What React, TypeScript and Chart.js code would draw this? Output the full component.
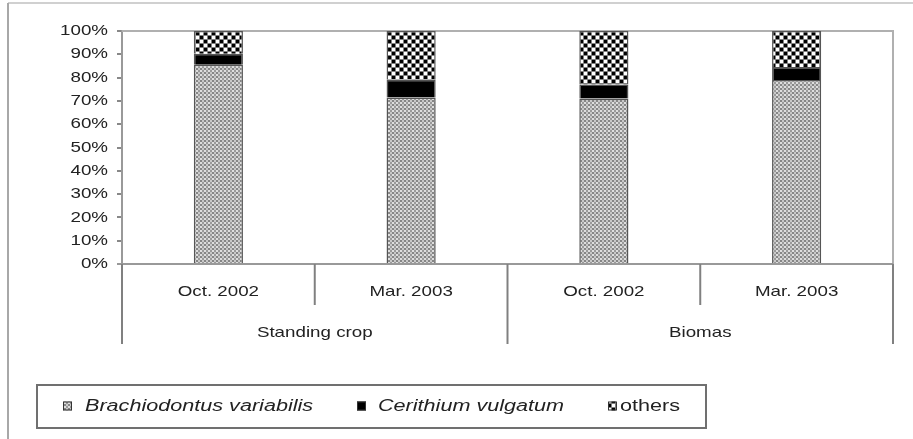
import React, { useEffect, useRef } from "react";
import { Chart, registerables } from "chart.js";

Chart.register(...registerables);

const categories = ["Oct. 2002", "Mar. 2003", "Oct. 2002", "Mar. 2003"];
const groups = ["Standing crop", "Biomas"];
const seriesNames = ["Brachiodontus variabilis", "Cerithium vulgatum", "others"];
const brachiodontus = [85.5, 71.5, 71, 79];
const cerithium = [4.7, 7.6, 6, 5.5];
const others = [9.8, 20.9, 23, 15.5];

const FONT = '"Liberation Sans", Arial, sans-serif';
const SX = 1.25;

function makeTile(size: number, draw: (c: CanvasRenderingContext2D) => void) {
  const cv = document.createElement("canvas");
  cv.width = size;
  cv.height = size;
  const c = cv.getContext("2d")!;
  draw(c);
  return cv;
}

function sText(
  ctx: CanvasRenderingContext2D,
  t: string,
  x: number,
  y: number,
  align: "left" | "center" | "right",
  font: string,
  sx = SX
) {
  ctx.save();
  ctx.font = font;
  const w = ctx.measureText(t).width * sx;
  const left = align === "center" ? x - w / 2 : align === "right" ? x - w : x;
  ctx.translate(left, y);
  ctx.scale(sx, 1);
  ctx.textAlign = "left";
  ctx.textBaseline = "middle";
  ctx.fillStyle = "#222";
  ctx.fillText(t, 0, 0);
  ctx.restore();
}

export default function App() {
  const ref = useRef<HTMLCanvasElement | null>(null);

  useEffect(() => {
    const canvas = ref.current!;
    const tmp = canvas.getContext("2d")!;
    const brachTile = makeTile(4, (c) => {
      c.fillStyle = "#dedede";
      c.fillRect(0, 0, 4, 4);
      c.fillStyle = "#868686";
      c.fillRect(0, 0, 2, 2);
      c.fillStyle = "#9a9a9a";
      c.fillRect(2, 2, 2, 2);
      c.fillStyle = "#c8c8c8";
      c.fillRect(2, 0, 2, 2);
    });
    const othersTile = makeTile(8, (c) => {
      c.fillStyle = "#808080";
      c.fillRect(0, 0, 8, 8);
      c.fillStyle = "#ffffff";
      c.fillRect(0, 0, 3, 3);
      c.fillRect(4, 4, 3, 3);
      c.fillStyle = "#000000";
      c.fillRect(4, 0, 3, 3);
      c.fillRect(0, 4, 3, 3);
    });
    const brachPat = tmp.createPattern(brachTile, "repeat")!;
    const othersPat = tmp.createPattern(othersTile, "repeat")!;
    const fills: (string | CanvasPattern)[] = [brachPat, "#000000", othersPat];

    const decor = {
      id: "decor",
      beforeDatasetsDraw(chart: any) {
        const { ctx, chartArea: a } = chart;
        ctx.save();
        ctx.strokeStyle = "#b0b0b0";
        ctx.lineWidth = 2;
        ctx.beginPath();
        ctx.moveTo(a.left, a.top);
        ctx.lineTo(a.right, a.top);
        ctx.lineTo(a.right, a.bottom);
        ctx.stroke();
        ctx.restore();
      },
      afterDraw(chart: any) {
        const { ctx, chartArea: a } = chart;
        const xs = chart.scales.x;
        const ys = chart.scales.y;
        ctx.save();
        // outer frame
        ctx.strokeStyle = "#d0d0d0";
        ctx.lineWidth = 2;
        ctx.beginPath();
        ctx.moveTo(8, 3);
        ctx.lineTo(913, 3);
        ctx.stroke();
        ctx.strokeStyle = "#a8a8a8";
        ctx.beginPath();
        ctx.moveTo(8, 3);
        ctx.lineTo(8, 439);
        ctx.stroke();
        // baseline
        ctx.strokeStyle = "#999";
        ctx.lineWidth = 2;
        ctx.beginPath();
        ctx.moveTo(a.left - 5, a.bottom);
        ctx.lineTo(a.right, a.bottom);
        ctx.stroke();
        // y tick labels
        ys.ticks.forEach((t: any) => {
          const y = ys.getPixelForValue(t.value);
          sText(ctx, t.value + "%", a.left - 14, y, "right", `15px ${FONT}`);
        });
        // category dividers
        const px = categories.map((_, i) => xs.getPixelForValue(i));
        const step = px.length > 1 ? px[1] - px[0] : a.right - a.left;
        ctx.strokeStyle = "#808080";
        ctx.lineWidth = 2;
        for (let i = 0; i <= categories.length; i++) {
          const x = i === 0 ? a.left : i === categories.length ? a.right : px[i] - step / 2;
          const outer = i % 2 === 0;
          ctx.beginPath();
          ctx.moveTo(x, a.bottom);
          ctx.lineTo(x, outer ? a.bottom + 80 : a.bottom + 41);
          ctx.stroke();
        }
        categories.forEach((c, i) => {
          sText(ctx, c, px[i], a.bottom + 28, "center", `15px ${FONT}`);
        });
        groups.forEach((g, gi) => {
          const cx = (px[gi * 2] + px[gi * 2 + 1]) / 2;
          sText(ctx, g, cx, a.bottom + 69, "center", `15px ${FONT}`);
        });
        // legend
        const bx = 37, by = 385, bw = 669, bh = 43;
        ctx.fillStyle = "#fff";
        ctx.fillRect(bx, by, bw, bh);
        ctx.strokeStyle = "#707070";
        ctx.lineWidth = 2;
        ctx.strokeRect(bx, by, bw, bh);
        const iconX = [63, 357, 608];
        const textOff = [22, 21, 12];
        const cy = by + bh / 2;
        seriesNames.forEach((n, i) => {
          ctx.fillStyle = fills[i];
          ctx.fillRect(iconX[i], cy - 5, 9, 9);
          ctx.strokeStyle = "#333";
          ctx.lineWidth = 1;
          ctx.strokeRect(iconX[i] + 0.5, cy - 4.5, 8, 8);
          const italic = i < 2 ? "italic " : "";
          sText(ctx, n, iconX[i] + textOff[i], cy, "left", `${italic}16px ${FONT}`, 1.35);
        });
        ctx.restore();
      },
    };

    const chart = new Chart(canvas, {
      type: "bar",
      data: {
        labels: categories,
        datasets: [
          { label: seriesNames[0], data: brachiodontus, backgroundColor: brachPat as any },
          { label: seriesNames[1], data: cerithium, backgroundColor: "#000000" },
          { label: seriesNames[2], data: others, backgroundColor: othersPat as any },
        ].map((d) => ({
          ...d,
          borderColor: "#555555",
          borderWidth: 1.5,
          categoryPercentage: 1,
          barPercentage: 0.255,
        })),
      },
      options: {
        responsive: false,
        animation: false,
        devicePixelRatio: 1,
        layout: { padding: { left: 0, top: 31, right: 20, bottom: 175 } },
        plugins: { legend: { display: false }, tooltip: { enabled: false } },
        scales: {
          x: { stacked: true, display: false },
          y: {
            stacked: true,
            min: 0,
            max: 100,
            ticks: { stepSize: 10, color: "rgba(0,0,0,0)", font: { size: 15 } },
            grid: { drawOnChartArea: false, drawTicks: true, tickLength: 5, color: "#888", lineWidth: 2 },
            border: { color: "#999", width: 2 },
            afterFit: (s: any) => {
              s.width = 122;
            },
          },
        },
      },
      plugins: [decor],
    });
    return () => chart.destroy();
  }, []);

  return (
    <div style={{ position: "absolute", left: 0, top: 0, width: 913, height: 439, background: "#fff" }}>
      <canvas ref={ref} width={913} height={439} style={{ width: 913, height: 439, display: "block" }} />
    </div>
  );
}
